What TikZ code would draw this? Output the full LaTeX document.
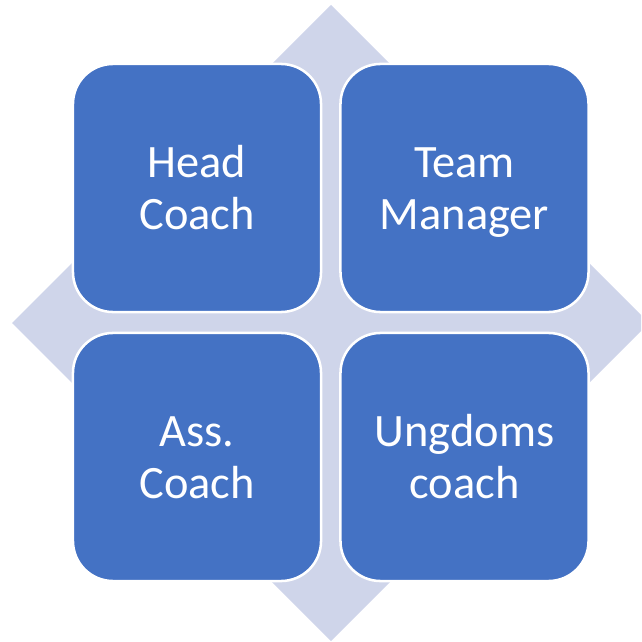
\documentclass[tikz,border=0pt]{standalone}
\usepackage{fontspec}
\setmainfont{Carlito}
\definecolor{boxblue}{HTML}{4472C4}
\definecolor{diamondgrey}{HTML}{CFD5EA}

\begin{document}
\begin{tikzpicture}[x=0.025cm,y=-0.025cm]
    \tikzstyle{role}=[rectangle,rounded corners=1cm,fill=boxblue,draw=white,line width=1.8pt,
        minimum width=6.2cm,minimum height=6.2cm,text=white,align=center,
        text height=67.7pt,text depth=8pt,
        font=\fontsize{33}{37.5}\selectfont]

    \useasboundingbox (0,0) rectangle (641,642);
    \clip (0,0) rectangle (641,642);

    % Draw the diamond behind the boxes
    \fill[diamondgrey] (331,5) -- (649,323) -- (331,641) -- (12,323) -- cycle;

    % Draw the four role boxes
    \foreach \name/\x/\y/\txt in {head/197/188/{Head\\Coach},
                                  team/464.5/188/{Team\\Manager},
                                  ass/197/457/{Ass.\\Coach},
                                  youth/464.5/457/{Ungdoms\\coach}}
        \node[role] (\name) at (\x,\y) {\txt};

\end{tikzpicture}
\end{document}
